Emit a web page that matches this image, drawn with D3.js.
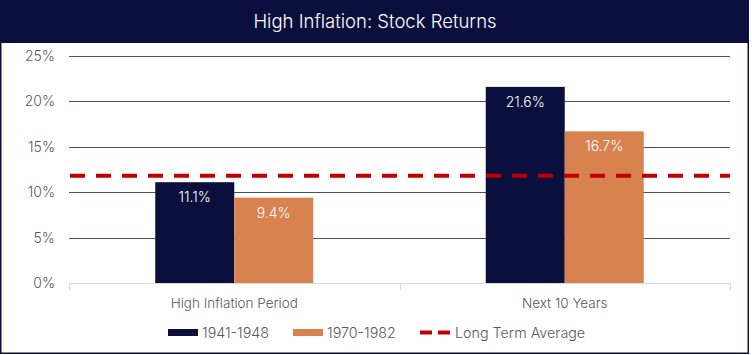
<!DOCTYPE html>
<html><head><meta charset="utf-8">
<script src="https://cdn.jsdelivr.net/npm/d3@7/dist/d3.min.js"></script>
<style>body{margin:0;background:#fff}svg{display:block;font-family:Inter,Lato,sans-serif}</style>
</head><body><svg id="c" width="752" height="355"></svg>
<script>
const title = "High Inflation: Stock Returns";
const categories = ["High Inflation Period", "Next 10 Years"];
const seriesNames = ["1941-1948", "1970-1982"];
const series1941 = [11.1, 21.6];
const series1970 = [9.4, 16.7];
const longTermAverage = 11.8;
const yTicks = [0, 5, 10, 15, 20, 25];
const avgLabel = "Long Term Average";

const navy = "#0b0f3d", orange = "#d8824f", red = "#c00000", grey = "#595959";
const svg = d3.select("#c");
const W = 752, H = 355;
const m = {left: 69, right: 22, top: 56, bottom: 72};
const x0 = d3.scaleBand().domain(categories).range([m.left, W - m.right]).paddingInner(0).paddingOuter(0);
const x1 = d3.scaleBand().domain(seriesNames).range([0, 158]);
const y = d3.scaleLinear().domain([0, 25]).range([283, 56]);

// background + border
svg.append("rect").attr("x", 0.75).attr("y", 0.75).attr("width", W - 4.5).attr("height", H - 2.5)
  .attr("fill", "#fff").attr("stroke", navy).attr("stroke-width", 1.5);
svg.append("rect").attr("x", 0).attr("y", 0).attr("width", W - 3).attr("height", 43).attr("fill", navy);
svg.append("text").attr("x", 375).attr("y", 27.5).attr("text-anchor", "middle").attr("fill", "#fff")
  .attr("font-size", 18.5).attr("font-weight", 300).text(title);

// gridlines
svg.append("g").selectAll("line").data(yTicks.filter(d => d > 0)).join("line")
  .attr("x1", m.left).attr("x2", W - m.right).attr("y1", d => Math.round(y(d)) + 0.5).attr("y2", d => Math.round(y(d)) + 0.5)
  .attr("stroke", "#4a4e6e").attr("stroke-width", 1);
// y labels
svg.append("g").selectAll("text").data(yTicks).join("text")
  .attr("x", 55).attr("y", d => y(d) + 5).attr("text-anchor", "end").attr("fill", grey).attr("font-size", 14)
  .attr("font-weight", 300).text(d => d + "%");
// x axis
svg.append("line").attr("x1", m.left).attr("x2", W - m.right).attr("y1", 283.5).attr("y2", 283.5).attr("stroke", "#d9d9d9");
const bounds = [m.left, x0(categories[1]), W - m.right];
svg.append("g").selectAll("line").data(bounds).join("line")
  .attr("x1", d => Math.round(d) + 0.5).attr("x2", d => Math.round(d) + 0.5).attr("y1", 283).attr("y2", 290).attr("stroke", "#d9d9d9");

// bars
const rows = categories.map((c, i) => ({c, vals: [series1941[i], series1970[i]]}));
const colors = [navy, orange];
const g = svg.append("g").selectAll("g").data(rows).join("g")
  .attr("transform", d => `translate(${x0(d.c) + (x0.bandwidth() - 158) / 2},0)`);
g.selectAll("rect").data(d => d.vals.map((v, j) => ({v, j}))).join("rect")
  .attr("x", d => x1(seriesNames[d.j])).attr("width", x1.bandwidth())
  .attr("y", d => y(d.v)).attr("height", d => y(0) - y(d.v)).attr("fill", d => colors[d.j]);
g.selectAll("text").data(d => d.vals.map((v, j) => ({v, j}))).join("text")
  .attr("x", d => x1(seriesNames[d.j]) + x1.bandwidth() / 2).attr("y", d => y(d.v) + 20)
  .attr("text-anchor", "middle").attr("fill", "#fff").attr("font-size", 14).attr("font-weight", 300)
  .text(d => d.v.toFixed(1) + "%");

// average line
svg.append("line").attr("x1", 70).attr("x2", W - m.right).attr("y1", y(longTermAverage)).attr("y2", y(longTermAverage))
  .attr("stroke", red).attr("stroke-width", 4).attr("stroke-dasharray", "15,11");

// category labels
svg.append("g").selectAll("text").data(categories).join("text")
  .attr("x", d => x0(d) + x0.bandwidth() / 2).attr("y", 308).attr("text-anchor", "middle")
  .attr("fill", grey).attr("font-size", 13.5).attr("font-weight", 300).text(d => d);

// legend
const lg = svg.append("g");
const lx = [168, 293];
seriesNames.forEach((s, i) => {
  lg.append("rect").attr("x", lx[i]).attr("y", 329).attr("width", 30).attr("height", 7).attr("fill", colors[i]);
  lg.append("text").attr("x", lx[i] + 34).attr("y", 337.5).attr("fill", grey).attr("font-size", 14.3)
    .attr("font-weight", 300).text(s);
});
lg.append("line").attr("x1", 420).attr("x2", 450).attr("y1", 332.5).attr("y2", 332.5)
  .attr("stroke", red).attr("stroke-width", 4).attr("stroke-dasharray", "12,6");
lg.append("text").attr("x", 455).attr("y", 337.5).attr("fill", grey).attr("font-size", 14.3)
  .attr("font-weight", 300).text(avgLabel);
</script></body></html>
